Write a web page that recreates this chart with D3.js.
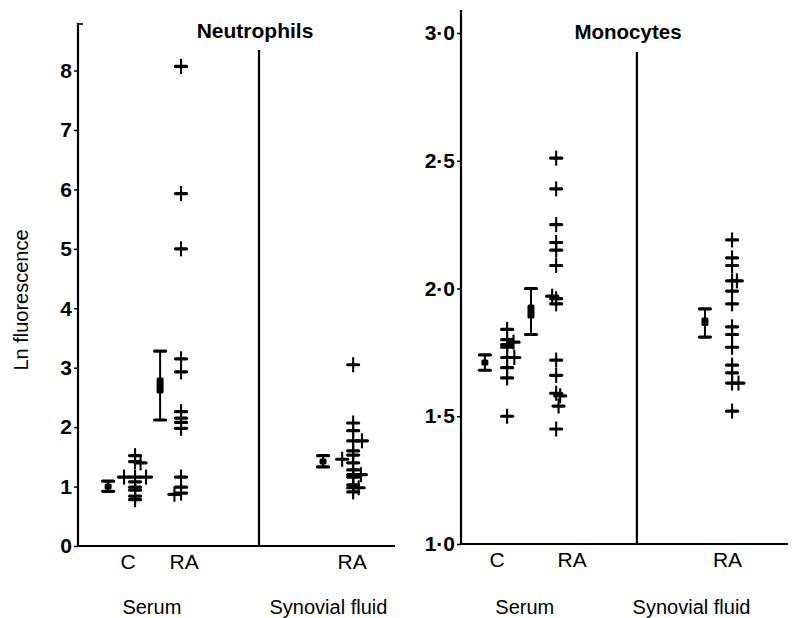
<!DOCTYPE html>
<html><head><meta charset="utf-8">
<script src="https://cdn.jsdelivr.net/npm/d3@7"></script>
<style>
body{margin:0;background:#fff;}
svg{display:block;}
text{font-family:"Liberation Sans",Arial,sans-serif;fill:#000;}
</style></head>
<body>
<svg id="c" width="793" height="618"></svg>
<script>
// ---------- data ----------
const neutroTicks = [0,1,2,3,4,5,6,7,8];
const monoTicks = [1.0,1.5,2.0,2.5,3.0];
const groupLabels = ["C","RA","RA"];
const fluidLabels = ["Serum","Synovial fluid"];

const neutroC   = [1.52,1.42,1.40,1.16,1.16,1.16,1.08,0.99,0.94,0.84,0.78];
const neutroCLane = [0,0,0.5,0,-1,1,0,0,0,0,0];
const neutroRA  = [8.07,5.93,5.0,3.15,2.93,2.26,2.15,2.08,1.98,1.16,0.99,0.89,0.87];
const neutroRALane = [0,0,0,0,0,0,0,0,0,0,0,0,-0.6];
const neutroSF  = [3.05,2.07,1.94,1.77,1.77,1.6,1.53,1.46,1.4,1.28,1.2,1.2,1.16,1.03,0.98,0.98,0.91];
const neutroSFLane = [0,0,0,0,0.8,0,0,-1,0,0,0,0.7,0,0,0,0.5,0];
const neutroMeans = [ {mean:1.0, lo:0.92, hi:1.09}, {mean:2.7, lo:2.12, hi:3.28}, {mean:1.42, lo:1.33, hi:1.52} ];

const monoC   = [1.84,1.80,1.79,1.78,1.77,1.73,1.73,1.69,1.65,1.50];
const monoCLane = [0,0,0.8,0,0,0,0.9,0,0,0];
const monoRA  = [2.51,2.39,2.25,2.18,2.15,2.09,1.97,1.96,1.94,1.72,1.66,1.59,1.58,1.54,1.45];
const monoRALane = [0,0,0,0,0,0,-0.5,0,0,0,0,0,0.5,0.3,0];
const monoSF  = [2.19,2.12,2.09,2.03,2.03,1.99,1.94,1.85,1.82,1.77,1.70,1.67,1.63,1.63,1.52];
const monoSFLane = [0,0,0,0,0.6,0,0,0,0,0,0,0,0,0.8,0];
const monoMeans = [ {mean:1.71, lo:1.68, hi:1.74}, {mean:1.91, lo:1.82, hi:2.0}, {mean:1.87, lo:1.81, hi:1.92} ];

// ---------- layout ----------
const svg = d3.select("#c");

const panels = [
  { title:"Neutrophils", ticks:neutroTicks, fmt:d=>String(d), dom:[0,8.8], yr:[546,23], xr:[78,395],
    titleX:255, titleY:38, titleSize:21, topTick:true,
    slots:{cm:9.5, c:18, rm:25.9, r:32.5, div:57.1, sm:77.3, s:86.8}, divTop:50,
    labelX:[15.8,33.5,86.5], fluidX:[23.3,79],
    series:[[neutroC,neutroCLane,"c"],[neutroRA,neutroRALane,"r"],[neutroSF,neutroSFLane,"s"]],
    means:neutroMeans, laneW:11 },
  { title:"Monocytes", ticks:monoTicks, fmt:d3.format(".1f"), dom:[1,3.09], yr:[544,10], xr:[461,788],
    titleX:628, titleY:39, titleSize:20.5, topTick:false,
    slots:{cm:7.3, c:14.1, rm:21.4, r:29.1, div:53.8, sm:74.6, s:82.9}, divTop:52,
    labelX:[11,34,81.5], fluidX:[19.5,70.5],
    series:[[monoC,monoCLane,"c"],[monoRA,monoRALane,"r"],[monoSF,monoSFLane,"s"]],
    means:monoMeans, laneW:8 }
];

panels.forEach(p=>{
  const y = d3.scaleLinear().domain(p.dom).range(p.yr);
  const x = d3.scaleLinear().domain([0,100]).range(p.xr);
  const g = svg.append("g");
  const base = p.yr[0];

  // y axis
  const ax = g.append("g").attr("transform",`translate(${p.xr[0]},0)`)
    .call(d3.axisLeft(y).tickValues(p.ticks).tickFormat(d=>p.fmt(d).replace(".","·")).tickSize(4).tickPadding(2));
  ax.select(".domain").remove();
  ax.selectAll(".tick line").attr("stroke","#000").attr("stroke-width",1.5);
  ax.selectAll(".tick text").style("font-size","21px").style("font-weight","bold");
  g.append("line").attr("x1",p.xr[0]).attr("x2",p.xr[0]).attr("y1",p.yr[1]).attr("y2",base+1)
    .attr("stroke","#000").attr("stroke-width",2.2);
  if(p.topTick) g.append("line").attr("x1",p.xr[0]).attr("x2",p.xr[0]+5).attr("y1",p.yr[1]+1).attr("y2",p.yr[1]+1)
    .attr("stroke","#000").attr("stroke-width",1.6);
  // x axis baseline
  g.append("line").attr("x1",p.xr[0]).attr("x2",p.xr[1]).attr("y1",base).attr("y2",base)
    .attr("stroke","#000").attr("stroke-width",2.2);
  // divider
  g.append("line").attr("x1",x(p.slots.div)).attr("x2",x(p.slots.div)).attr("y1",p.divTop).attr("y2",base)
    .attr("stroke","#000").attr("stroke-width",2.2);

  // title
  g.append("text").attr("x",p.titleX).attr("y",p.titleY).attr("text-anchor","middle")
    .style("font-size",p.titleSize+"px").style("font-weight","bold").text(p.title);

  // group labels
  groupLabels.forEach((t,i)=>{
    g.append("text").attr("x",x(p.labelX[i])).attr("y",base+23).attr("text-anchor","middle")
      .style("font-size","21px").text(t);
  });
  fluidLabels.forEach((t,i)=>{
    g.append("text").attr("x",x(p.fluidX[i])).attr("y",614).attr("text-anchor","middle")
      .style("font-size","20px").text(t);
  });

  // mean bars
  const meanSlots = ["cm","rm","sm"];
  p.means.forEach((m,i)=>{
    const cx = x(p.slots[meanSlots[i]]);
    const mg = g.append("g");
    mg.append("line").attr("x1",cx).attr("x2",cx).attr("y1",y(m.lo)).attr("y2",y(m.hi))
      .attr("stroke","#000").attr("stroke-width",2);
    [m.lo,m.hi].forEach(v=>{
      mg.append("line").attr("x1",cx-5.5).attr("x2",cx+5.5).attr("y1",y(v)).attr("y2",y(v))
        .attr("stroke","#000").attr("stroke-width",3.2).attr("stroke-linecap","round");
    });
    const bh = Math.min(16, Math.max(6,(y(m.lo)-y(m.hi))*0.3));
    mg.append("rect").attr("x",cx-3.5).attr("y",y(m.mean)-bh/2).attr("width",7).attr("height",bh)
      .attr("rx",1.5).attr("fill","#000");
  });

  // individual points as crosses
  p.series.forEach(([vals,lanes,slot])=>{
    const cx0 = x(p.slots[slot]);
    vals.forEach((v,i)=>{
      const cx = cx0 + lanes[i]*p.laneW, cy = y(v);
      g.append("line").attr("x1",cx).attr("x2",cx).attr("y1",cy-7.5).attr("y2",cy+7.5)
        .attr("stroke","#000").attr("stroke-width",2.1);
      g.append("line").attr("x1",cx-5.5).attr("x2",cx+5.5).attr("y1",cy).attr("y2",cy)
        .attr("stroke","#000").attr("stroke-width",3.2).attr("stroke-linecap","round");
    });
  });
});

// y axis title
svg.append("text").attr("transform","translate(28,300) rotate(-90)").attr("text-anchor","middle")
  .style("font-size","20px").text("Ln fluorescence");
</script>
</body></html>
